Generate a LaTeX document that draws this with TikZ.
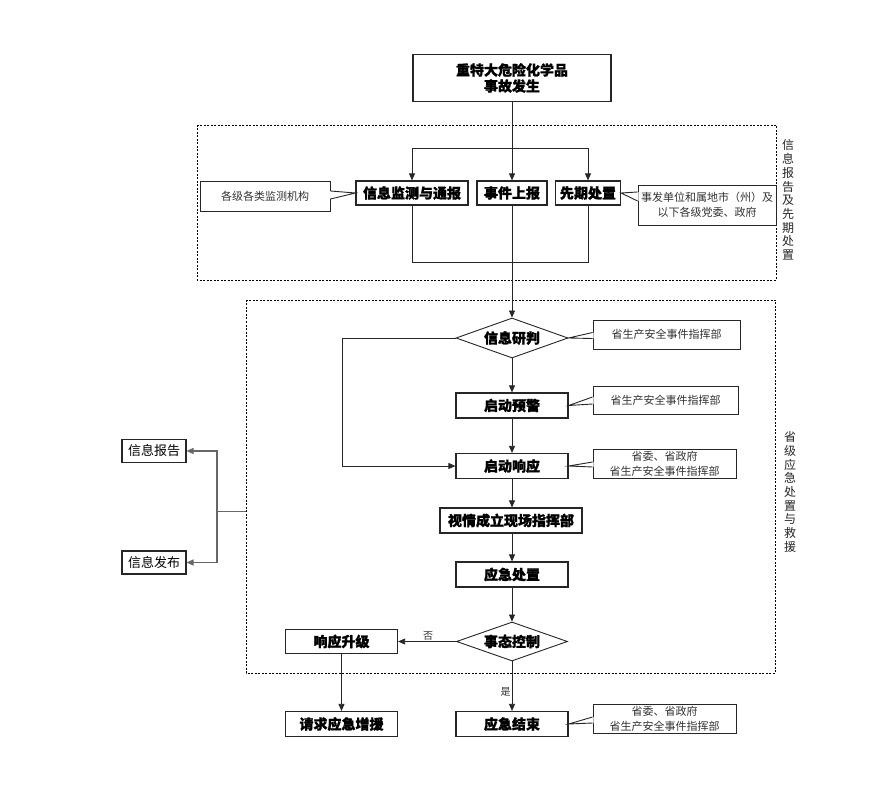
\documentclass[tikz,border=0pt]{standalone}
\usepackage{fontspec}
\setmainfont{Noto Sans CJK SC}[BoldFeatures={FakeBold=1.2}]
\usetikzlibrary{shapes.geometric,arrows.meta,calc}
\begin{document}
\begin{tikzpicture}[x=1pt,y=-1pt,
  mybox/.style={draw=black!85,line width=1.2pt,fill=white,inner sep=0pt,
    font=\fontsize{14}{16}\selectfont\bfseries},
  mydia/.style={draw=black!85,line width=0.9pt,fill=white,diamond,aspect=2.8,inner sep=0pt,
    font=\fontsize{14}{16}\selectfont\bfseries},
  cbox/.style={draw=black!85,line width=0.9pt,fill=white,inner sep=0pt,align=center,
    text=black!80,font=\fontsize{11}{15}\selectfont},
  sbox/.style={draw=black!85,line width=1.1pt,fill=white,inner sep=0pt,
    font=\fontsize{13}{15}\selectfont},
  arr/.style={-{Triangle[length=7pt,width=6pt]}},
  conn/.style={draw=black!85,line width=0.8pt},
  gconn/.style={draw=black!60,line width=1.2pt},
  dbox/.style={draw=black,line width=0.7pt,dash pattern=on 2pt off 1.5pt},
  vlab/.style={align=center,inner sep=0pt,text=black!85,font=\fontsize{12}{13.7}\selectfont},
  ylab/.style={inner sep=1pt,font=\fontsize{10}{12}\selectfont,text=black!80}]
\useasboundingbox (0,0) rectangle (888,791);
\fill[white] (0,0) rectangle (888,791);

% dashed frames
\draw[dbox] (197,125) rectangle (776,280);
\draw[dbox] (246,300) rectangle (775,673);
\coordinate (d2w) at (246,511);

% top
\node[mybox,minimum width=198pt,minimum height=47pt,align=center] (top) at (512,78) {重特大危险化学品\\事故发生};

% first frame
\node[mybox,minimum width=112pt,minimum height=24pt] (jc) at (412,193) {信息监测与通报};
\node[mybox,minimum width=70pt,minimum height=24pt] (sj) at (512,193) {事件上报};
\node[mybox,minimum width=65pt,minimum height=24pt] (xq) at (588,193) {先期处置};
\coordinate (jl) at (412,148);
\coordinate (jr) at (588,148);
\coordinate (bt) at (512,262);

\node[cbox,minimum width=130pt,minimum height=30pt] (cL) at (265,196) {各级各类监测机构};
\node[cbox,minimum width=138pt,minimum height=40pt] (cR) at (707,205) {事发单位和属地市（州）及\\以下各级党委、政府};

% second frame
\node[mydia,minimum width=112pt,minimum height=40pt] (yp) at (512,338) {信息研判};
\node[mybox,minimum width=112pt,minimum height=25pt] (yj) at (512,405.5) {启动预警};
\node[mybox,minimum width=112pt,minimum height=25pt] (xy) at (512,466) {启动响应};
\node[mybox,minimum width=142pt,minimum height=25pt] (xc) at (511,520.5) {视情成立现场指挥部};
\node[mybox,minimum width=112pt,minimum height=25pt] (cz) at (512,574.5) {应急处置};
\node[mydia,minimum width=111pt,minimum height=39pt] (tk) at (512,641.5) {事态控制};
\node[mybox,minimum width=112pt,minimum height=24pt] (sj2) at (341.5,641.5) {响应升级};
\node[mybox,minimum width=112pt,minimum height=25pt] (zy) at (341.5,724) {请求应急增援};
\node[mybox,minimum width=112pt,minimum height=25pt] (js) at (512,724) {应急结束};

\node[cbox,minimum width=147pt,minimum height=29pt] (c1) at (666.5,334.5) {省生产安全事件指挥部};
\node[cbox,minimum width=145pt,minimum height=28pt] (c2) at (665.5,400) {省生产安全事件指挥部};
\node[cbox,minimum width=143pt,minimum height=29pt] (c3) at (664.5,463.5) {省委、省政府\\省生产安全事件指挥部};
\node[cbox,minimum width=143pt,minimum height=29pt] (c4) at (664.5,718.5) {省委、省政府\\省生产安全事件指挥部};

% left side
\node[sbox,minimum width=64pt,minimum height=23pt] (bg) at (154,451) {信息报告};
\node[sbox,minimum width=64pt,minimum height=23pt] (fb) at (154,562.5) {信息发布};
\coordinate (lj) at (217,511);

% callout pointers
\fill[white] ($(cL.east)+(-1,-5)$) -- (jc.west) -- ($(cL.east)+(-1,3)$) -- cycle;
\draw[line width=0.9pt,black!85] ($(cL.east)+(0,-5)$) -- (jc.west) -- ($(cL.east)+(0,3)$);
\fill[white] ($(cR.west)+(1,-13)$) -- (xq.east) -- ($(cR.west)+(1,-4)$) -- cycle;
\draw[line width=0.9pt,black!85] ($(cR.west)+(0,-13)$) -- (xq.east) -- ($(cR.west)+(0,-4)$);
\fill[white] ($(c1.west)+(1,-2)$) -- (yp.east) -- ($(c1.west)+(1,4)$) -- cycle;
\draw[line width=0.9pt,black!85] ($(c1.west)+(0,-2)$) -- (yp.east) -- ($(c1.west)+(0,4)$);
\fill[white] ($(c2.west)+(1,-3)$) -- (yj.east) -- ($(c2.west)+(1,4)$) -- cycle;
\draw[line width=0.9pt,black!85] ($(c2.west)+(0,-3)$) -- (yj.east) -- ($(c2.west)+(0,4)$);
\fill[white] ($(c3.west)+(1,-1.5)$) -- (xy.east) -- ($(c3.west)+(1,3.5)$) -- cycle;
\draw[line width=0.9pt,black!85] ($(c3.west)+(0,-1.5)$) -- (xy.east) -- ($(c3.west)+(0,3.5)$);
\fill[white] ($(c4.west)+(1,-1.5)$) -- (js.east) -- ($(c4.west)+(1,4.5)$) -- cycle;
\draw[line width=0.9pt,black!85] ($(c4.west)+(0,-1.5)$) -- (js.east) -- ($(c4.west)+(0,4.5)$);

% connectors
\draw[conn,arr] (top.south) -- (sj.north);
\draw[conn] (jl) -- (jr);
\draw[conn,arr] (jl) -- (jc.north);
\draw[conn,arr] (jr) -- (xq.north);
\draw[conn] (jc.south) -- (jc.south |- bt) -- (xq.south |- bt) -- (xq.south);
\draw[conn,arr] (sj.south) -- (yp.north);
\draw[conn,arr] (yp.west) -- (342,338) -- (342,466) -- (xy.west);
\draw[conn,arr] (yp.south) -- (yj.north);
\draw[conn,arr] (yj.south) -- (xy.north);
\draw[conn,arr] (xy.south) -- (xc.north -| xy.south);
\draw[conn,arr] (xc.south -| cz.north) -- (cz.north);
\draw[conn,arr] (cz.south) -- (tk.north);
\draw[conn,arr] (tk.west) -- node[ylab,above,pos=0.48] {否} (sj2.east);
\draw[conn,arr] (sj2.south) -- (zy.north);
\draw[conn,arr] (tk.south) -- node[ylab,left,pos=0.62] {是} (js.north);
\draw[draw=black!60,line width=0.9pt] (d2w) -- (lj);
\draw[gconn,arr] (lj) |- (bg.east);
\draw[gconn,arr] (lj) |- (fb.east);

% vertical labels
\node[vlab] (v1) at (788,200) {信\\息\\报\\告\\及\\先\\期\\处\\置};
\node[vlab] (v2) at (790,492) {省\\级\\应\\急\\处\\置\\与\\救\\援};
\end{tikzpicture}
\end{document}
